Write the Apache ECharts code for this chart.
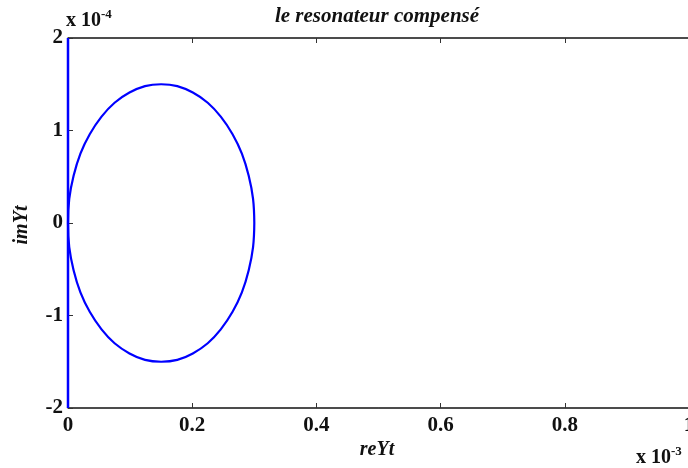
<!DOCTYPE html>
<html>
<head>
<meta charset="utf-8">
<script src="https://cdn.jsdelivr.net/npm/echarts@6/dist/echarts.min.js"></script>
<style>
  html, body { margin: 0; padding: 0; background: #fff; }
  #chart { width: 688px; height: 468px; }
</style>
</head>
<body>
<div id="chart"></div>
<script>
var reYt = [0.300, 0.298, 0.291, 0.280, 0.265, 0.246, 0.225, 0.201, 0.176, 0.150,
            0.124, 0.099, 0.075, 0.054, 0.035, 0.020, 0.009, 0.002, 0.000,
            0.002, 0.009, 0.020, 0.035, 0.054, 0.075, 0.099, 0.124, 0.150,
            0.176, 0.201, 0.225, 0.246, 0.265, 0.280, 0.291, 0.298, 0.300];
var imYt = [0.00, 0.26, 0.51, 0.75, 0.96, 1.15, 1.30, 1.41, 1.48, 1.50,
            1.48, 1.41, 1.30, 1.15, 0.96, 0.75, 0.51, 0.26, 0.00,
            -0.26, -0.51, -0.75, -0.96, -1.15, -1.30, -1.41, -1.48, -1.50,
            -1.48, -1.41, -1.30, -1.15, -0.96, -0.75, -0.51, -0.26, 0.00];
// branch lying on the imaginary axis
var axeRe = [0, 0];
var axeIm = [-2, 2];

var xTicks = ["0", "0.2", "0.4", "0.6", "0.8", "1"];
var yTicks = ["-2", "-1", "0", "1", "2"];

var police = "'Liberation Serif', 'DejaVu Serif', serif";

var cercle = reYt.map(function (v, i) { return [v, imYt[i]]; });
var axe = axeRe.map(function (v, i) { return [v, axeIm[i]]; });

var myChart = echarts.init(document.getElementById("chart"), null, { renderer: "canvas" });

var exposant = {
  b: { fontFamily: police, fontWeight: "bold", fontSize: 20, fill: "#111" },
  s: { fontFamily: police, fontWeight: "bold", fontSize: 13, fill: "#111", verticalAlign: "top", padding: [0, 0, 12, 0] }
};

var option = {
  animation: false,
  grid: {
    left: 68, right: -1, top: 38, bottom: 60,
    outerBoundsMode: "none",
    show: true, borderColor: "#333", borderWidth: 1
  },
  xAxis: [
    {
      type: "value", min: 0, max: 1, interval: 0.2,
      axisLine: { show: true, onZero: false, lineStyle: { color: "#333", width: 1.5 } },
      axisTick: { show: true, inside: true, length: 5, lineStyle: { color: "#333" } },
      splitLine: { show: false },
      axisLabel: {
        margin: 7, color: "#111", fontFamily: police, fontWeight: "bold", fontSize: 21,
        formatter: function (v) { return xTicks[Math.round(v / 0.2)]; }
      }
    },
    {
      type: "value", position: "top", min: 0, max: 1, interval: 0.2,
      axisLine: { show: true, onZero: false, lineStyle: { color: "#333", width: 1.5 } },
      axisTick: { show: true, inside: true, length: 5, lineStyle: { color: "#333" } },
      splitLine: { show: false },
      axisLabel: { show: false }
    }
  ],
  yAxis: {
    type: "value", min: -2, max: 2, interval: 1,
    axisLine: { show: true, onZero: false, lineStyle: { color: "#333", width: 1 } },
    axisTick: { show: true, inside: true, length: 5, lineStyle: { color: "#333" } },
    splitLine: { show: false },
    axisLabel: {
      margin: 5, color: "#111", fontFamily: police, fontWeight: "bold", fontSize: 21,
      formatter: function (v) { return yTicks[Math.round(v) + 2]; }
    }
  },
  series: [
    {
      type: "line", data: cercle, smooth: 0.4, showSymbol: false,
      lineStyle: { color: "#0000ff", width: 2.2 }
    },
    {
      type: "line", data: axe, showSymbol: false,
      lineStyle: { color: "#0000ff", width: 2.5 }
    }
  ],
  graphic: [
    {
      type: "text", x: 377, y: 6,
      style: {
        text: "le resonateur compensé", fill: "#111", fontFamily: police,
        fontStyle: "italic", fontWeight: "bold", fontSize: 21, textAlign: "center"
      }
    },
    {
      type: "text", left: 66, top: 8,
      style: { text: "{b|x 10}{s|-4}", fill: "#111", rich: exposant }
    },
    {
      type: "text", left: 636, top: 445,
      style: { text: "{b|x 10}{s|-3}", fill: "#111", rich: exposant }
    },
    {
      type: "text", x: 377, y: 440,
      style: {
        text: "reYt", fill: "#111", fontFamily: police, textAlign: "center",
        fontStyle: "italic", fontWeight: "bold", fontSize: 20
      }
    },
    {
      type: "text", x: 12, y: 225, rotation: Math.PI / 2,
      style: {
        text: "imYt", fill: "#111", fontFamily: police, textAlign: "center",
        fontStyle: "italic", fontWeight: "bold", fontSize: 20
      }
    }
  ]
};

myChart.setOption(option);
window.addEventListener("resize", myChart.resize);
</script>
</body>
</html>
